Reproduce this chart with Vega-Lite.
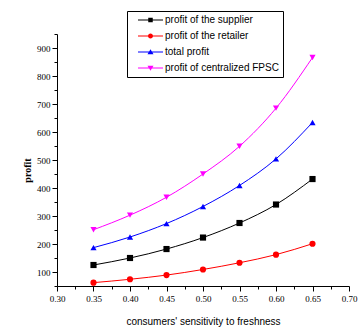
{
  "$schema": "https://vega.github.io/schema/vega-lite/v6.json",
  "autosize": {"type": "none"},
  "width": 292,
  "height": 252,
  "padding": {"left": 57, "top": 34, "right": 10, "bottom": 48},
  "background": "white",
  "config": {
    "view": {"stroke": null},
    "axis": {
      "domainColor": "black", "tickColor": "black", "labelColor": "black", "titleColor": "black",
      "grid": false, "domainWidth": 1, "tickWidth": 1
    }
  },
  "data": {
    "values": [
      {"s": 0.35, "series": "profit of the supplier", "profit": 125},
      {"s": 0.40, "series": "profit of the supplier", "profit": 150},
      {"s": 0.45, "series": "profit of the supplier", "profit": 182},
      {"s": 0.50, "series": "profit of the supplier", "profit": 223},
      {"s": 0.55, "series": "profit of the supplier", "profit": 275},
      {"s": 0.60, "series": "profit of the supplier", "profit": 341},
      {"s": 0.65, "series": "profit of the supplier", "profit": 432},
      {"s": 0.35, "series": "profit of the retailer", "profit": 62},
      {"s": 0.40, "series": "profit of the retailer", "profit": 74},
      {"s": 0.45, "series": "profit of the retailer", "profit": 89},
      {"s": 0.50, "series": "profit of the retailer", "profit": 109},
      {"s": 0.55, "series": "profit of the retailer", "profit": 133},
      {"s": 0.60, "series": "profit of the retailer", "profit": 162},
      {"s": 0.65, "series": "profit of the retailer", "profit": 201},
      {"s": 0.35, "series": "total profit", "profit": 187},
      {"s": 0.40, "series": "total profit", "profit": 225},
      {"s": 0.45, "series": "total profit", "profit": 273},
      {"s": 0.50, "series": "total profit", "profit": 334},
      {"s": 0.55, "series": "total profit", "profit": 409},
      {"s": 0.60, "series": "total profit", "profit": 504},
      {"s": 0.65, "series": "total profit", "profit": 634},
      {"s": 0.35, "series": "profit of centralized FPSC", "profit": 251},
      {"s": 0.40, "series": "profit of centralized FPSC", "profit": 303},
      {"s": 0.45, "series": "profit of centralized FPSC", "profit": 367},
      {"s": 0.50, "series": "profit of centralized FPSC", "profit": 450},
      {"s": 0.55, "series": "profit of centralized FPSC", "profit": 549},
      {"s": 0.60, "series": "profit of centralized FPSC", "profit": 685},
      {"s": 0.65, "series": "profit of centralized FPSC", "profit": 866}
    ]
  },
  "encoding": {
    "x": {
      "field": "s", "type": "quantitative",
      "scale": {"domain": [0.30, 0.70], "nice": false, "zero": false},
      "axis": {
        "title": "consumers' sensitivity to freshness",
        "values": [0.30, 0.325, 0.35, 0.375, 0.40, 0.425, 0.45, 0.475, 0.50, 0.525, 0.55, 0.575, 0.60, 0.625, 0.65, 0.675, 0.70],
        "labelExpr": "round(datum.value*40) % 2 == 0 ? format(datum.value, '.2f') : ''",
        "tickSize": {"condition": {"test": "round(datum.value*40) % 2 == 0", "value": 5}, "value": 3},
        "labelFont": "Liberation Serif", "labelFontSize": 9, "labelPadding": 3,
        "labelFlush": false, "labelOverlap": false,
        "titleFont": "Liberation Sans", "titleFontSize": 10, "titleFontWeight": "normal", "titlePadding": 13
      }
    },
    "y": {
      "field": "profit", "type": "quantitative",
      "scale": {"domain": [50, 950], "nice": false, "zero": false},
      "axis": {
        "title": "profit",
        "values": [50, 100, 150, 200, 250, 300, 350, 400, 450, 500, 550, 600, 650, 700, 750, 800, 850, 900, 950],
        "labelExpr": "datum.value % 100 == 0 ? datum.value : ''",
        "tickSize": {"condition": {"test": "datum.value % 100 == 0", "value": 5}, "value": 3},
        "labelFont": "Liberation Serif", "labelFontSize": 9, "labelPadding": 2,
        "labelFlush": false, "labelOverlap": false,
        "titleFont": "Liberation Serif", "titleFontSize": 10, "titleFontWeight": "bold", "titlePadding": 4,
        "titleY": 136
      }
    }
  },
  "layer": [
    {
      "mark": {"type": "line", "strokeWidth": 1, "interpolate": "monotone"},
      "encoding": {
        "color": {
          "field": "series", "type": "nominal", "legend": null,
          "scale": {"domain": ["profit of the supplier", "profit of the retailer", "total profit", "profit of centralized FPSC"], "range": ["#000000", "#ff0000", "#0000ff", "#ff00ff"]}
        }
      }
    },
    {
      "mark": {"type": "point", "filled": true, "opacity": 1, "size": 38},
      "encoding": {
        "color": {
          "field": "series", "type": "nominal", "legend": null,
          "scale": {"domain": ["profit of the supplier", "profit of the retailer", "total profit", "profit of centralized FPSC"], "range": ["#000000", "#ff0000", "#0000ff", "#ff00ff"]}
        },
        "shape": {
          "field": "series", "type": "nominal", "legend": null,
          "scale": {"domain": ["profit of the supplier", "profit of the retailer", "total profit", "profit of centralized FPSC"], "range": ["square", "circle", "triangle-up", "triangle-down"]}
        }
      }
    },
    {
      "transform": [{"filter": "datum.s > 1"}],
      "mark": {"type": "point", "filled": true, "opacity": 1, "size": 100},
      "encoding": {
        "color": {
          "field": "series", "type": "nominal",
          "scale": {"domain": ["profit of the supplier", "profit of the retailer", "total profit", "profit of centralized FPSC"], "range": ["#000000", "#ff0000", "#0000ff", "#ff00ff"]},
          "legend": {
            "orient": "none", "legendX": 70, "legendY": -23, "title": null,
            "strokeColor": "black", "fillColor": "white", "padding": 4,
            "symbolOpacity": 1, "symbolSize": 100, "symbolStrokeWidth": 0,
            "labelFont": "Liberation Sans", "labelFontSize": 10, "labelColor": "black",
            "labelOffset": 24, "rowPadding": 6, "labelLimit": 300
          }
        },
        "shape": {
          "field": "series", "type": "nominal",
          "scale": {"domain": ["profit of the supplier", "profit of the retailer", "total profit", "profit of centralized FPSC"],
            "range": [
              "M0.4,-0.1H5.4V0.1H0.4Z M2.45,-0.45H3.35V0.45H2.45Z",
              "M0.4,-0.1H5.4V0.1H0.4Z M2.4,0A0.5,0.5 0 1,1 3.4,0A0.5,0.5 0 1,1 2.4,0Z",
              "M0.4,-0.1H5.4V0.1H0.4Z M2.9,-0.55L3.5,0.45L2.3,0.45Z",
              "M0.4,-0.1H5.4V0.1H0.4Z M2.3,-0.45L3.5,-0.45L2.9,0.55Z"
            ]}
        }
      }
    }
  ],
  "resolve": {"scale": {"color": "independent", "shape": "independent"}, "legend": {"color": "independent", "shape": "independent"}}
}
